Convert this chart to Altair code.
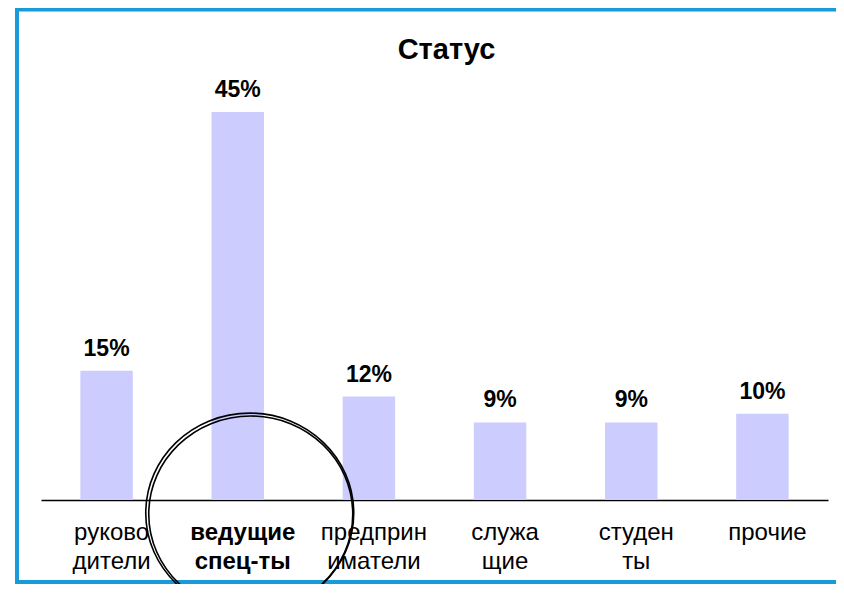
import altair as alt
import pandas as pd

# ---- data ----
categories = ["руково|дители", "ведущие|спец-ты", "предприн|иматели",
              "служа|щие", "студен|ты", "прочие"]
shares = [0.15, 0.45, 0.12, 0.09, 0.09, 0.10]
title_text = "Статус"
highlight = ["ведущие|спец-ты"]
highlight_level = [-0.015]

df = pd.DataFrame({"cat": categories, "share": shares})
ann = pd.DataFrame({"cat": highlight, "share": highlight_level})
frame_df = pd.DataFrame({"k": [0]})

FONT = "Liberation Sans, Arial, Helvetica, sans-serif"
W, H = 787, 431
BLUE = "#1b9ad8"

x = alt.X(
    "cat:N", sort=categories, title=None,
    scale=alt.Scale(paddingInner=0.6, paddingOuter=0.3),
    axis=alt.Axis(
        labelExpr="split(datum.label, '|')",
        labelAngle=0, ticks=False, grid=False,
        domainColor="black", domainWidth=1.5,
        labelFont=FONT, labelFontSize=24, labelColor="black",
        labelLineHeight=29, labelBaseline="alphabetic",
        labelPadding=39, labelOffset=5, labelLimit=0, labelOverlap=False,
        labelFontWeight={"condition": {"test": f"datum.value == '{highlight[0]}'",
                                       "value": "bold"},
                         "value": "normal"},
    ),
)
y = alt.Y("share:Q", scale=alt.Scale(domain=[0, 0.5]), axis=None)

frame = alt.Chart(frame_df).mark_rect(
    fillOpacity=0, stroke=BLUE, strokeWidth=4
).encode(
    x=alt.value(-24), x2=alt.value(830), y=alt.value(-59.5), y2=alt.value(513)
)

bars = alt.Chart(df).mark_bar(color="#CCCCFF").encode(x=x, y=y)

labels = alt.Chart(df).mark_text(
    dy=-15, baseline="alphabetic", fontWeight="bold", fontSize=23,
    font=FONT, color="black"
).encode(x=x, y=y, text=alt.Text("share:Q", format=".0%"))

ellipse_path = "M-1,0 A1,0.96 0 1,1 1,0 A1,0.96 0 1,1 -1,0 Z"
ring1 = alt.Chart(ann).mark_point(
    shape=ellipse_path, size=43264, filled=False, stroke="black",
    strokeWidth=1.6, opacity=1, xOffset=12
).encode(x=x, y=y)
ring2 = alt.Chart(ann).mark_point(
    shape=ellipse_path, size=41616, filled=False, stroke="black",
    strokeWidth=1.6, opacity=1, xOffset=13, yOffset=1
).encode(x=x, y=y)

chart = alt.layer(frame, bars, labels, ring1, ring2).properties(
    width=W, height=H,
    autosize=alt.AutoSizeParams(type="none"),
    padding={"left": 33, "top": 61, "right": 8, "bottom": 84},
    title=alt.TitleParams(
        title_text, font=FONT, fontSize=29, fontWeight="bold",
        anchor="middle", frame="group", baseline="alphabetic",
        offset=-80, dx=12, color="black"
    ),
).configure_view(stroke=None)

chart.save("out.html", embed_options={"renderer": "svg", "actions": False})
